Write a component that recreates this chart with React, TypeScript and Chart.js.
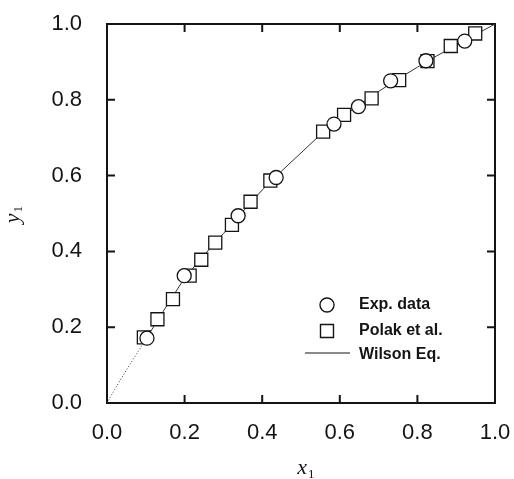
import React, { useEffect, useRef } from 'react';
import { Chart, registerables } from 'chart.js';

Chart.register(...registerables);

// ---- data ----
const expX = [0.103, 0.199, 0.338, 0.436, 0.585, 0.648, 0.731, 0.822, 0.922];
const expY = [0.171, 0.336, 0.494, 0.595, 0.736, 0.782, 0.850, 0.903, 0.955];

const polakX = [0.095, 0.130, 0.170, 0.213, 0.243, 0.279, 0.322, 0.370, 0.421, 0.557, 0.611, 0.682, 0.753, 0.826, 0.886, 0.949];
const polakY = [0.173, 0.221, 0.274, 0.336, 0.378, 0.423, 0.470, 0.531, 0.587, 0.716, 0.760, 0.804, 0.852, 0.902, 0.942, 0.975];

const wilsonX = [0, 0.02, 0.05, 0.1, 0.15, 0.2, 0.25, 0.3, 0.35, 0.4, 0.45, 0.5, 0.55, 0.6, 0.65, 0.7, 0.75, 0.8, 0.85, 0.9, 0.95, 1.0];
const wilsonY = [0, 0.036, 0.087, 0.168, 0.25, 0.33, 0.39, 0.447, 0.505, 0.562, 0.612, 0.66, 0.708, 0.749, 0.787, 0.822, 0.855, 0.886, 0.916, 0.944, 0.972, 1.0];

const tickValues = [0, 0.2, 0.4, 0.6, 0.8, 1.0];
const tickLabels = ['0.0', '0.2', '0.4', '0.6', '0.8', '1.0'];

const legendLabels = ['Exp. data', 'Polak et al.', 'Wilson Eq.'];
const xTitle = ['x', '1'];
const yTitle = ['y', '1'];

const INK = '#141414';
const TICK_FONT = { family: '"Liberation Sans", Arial, Helvetica, sans-serif', size: 22 };

export default function App() {
  const ref = useRef<HTMLCanvasElement>(null);

  useEffect(() => {
    const canvas = ref.current;
    if (!canvas) return;

    const framePlugin = {
      id: 'frame',
      beforeDatasetsDraw(chart: any) {
        const { ctx, chartArea } = chart;
        const { left, right, top, bottom } = chartArea;
        const xs = chart.scales.x;
        const ys = chart.scales.y;
        ctx.save();
        ctx.strokeStyle = INK;
        ctx.lineWidth = 2;
        ctx.strokeRect(left, top, right - left, bottom - top);
        const tl = 8;
        ctx.beginPath();
        tickValues.forEach((v) => {
          if (v <= 0 || v >= 1) return;
          const px = xs.getPixelForValue(v);
          ctx.moveTo(px, bottom);
          ctx.lineTo(px, bottom - tl);
          ctx.moveTo(px, top);
          ctx.lineTo(px, top + tl);
          const py = ys.getPixelForValue(v);
          ctx.moveTo(left, py);
          ctx.lineTo(left + tl, py);
          ctx.moveTo(right, py);
          ctx.lineTo(right - tl, py);
        });
        ctx.stroke();
        ctx.restore();
      },
    };

    const decorPlugin = {
      id: 'decor',
      afterDraw(chart: any) {
        const { ctx, chartArea } = chart;
        const { left, right, top, bottom } = chartArea;
        ctx.save();
        // axis titles
        ctx.fillStyle = INK;
        const cx = (left + right) / 2;
        ctx.font = 'italic 22px "Liberation Serif", "Times New Roman", serif';
        ctx.textBaseline = 'alphabetic';
        ctx.textAlign = 'right';
        ctx.fillText(xTitle[0], cx + 6, 474);
        ctx.font = '13px "Liberation Serif", "Times New Roman", serif';
        ctx.textAlign = 'left';
        ctx.fillText(xTitle[1], cx + 7, 478);

        const cy = (top + bottom) / 2;
        ctx.save();
        ctx.translate(19, cy + 6);
        ctx.rotate(-Math.PI / 2);
        ctx.font = 'italic 22px "Liberation Serif", "Times New Roman", serif';
        ctx.textAlign = 'right';
        ctx.fillText(yTitle[0], 6, 0);
        ctx.font = '13px "Liberation Serif", "Times New Roman", serif';
        ctx.textAlign = 'left';
        ctx.fillText(yTitle[1], 7, 3);
        ctx.restore();

        // legend
        const symX = 327;
        const rows = [305, 331, 355];
        ctx.strokeStyle = INK;
        ctx.lineWidth = 1.4;
        ctx.fillStyle = '#fff';
        ctx.beginPath();
        ctx.arc(symX, rows[0], 7, 0, Math.PI * 2);
        ctx.fill();
        ctx.stroke();
        ctx.beginPath();
        ctx.rect(symX - 6.5, rows[1] - 6.5, 13, 13);
        ctx.fill();
        ctx.stroke();
        ctx.lineWidth = 1;
        ctx.beginPath();
        ctx.moveTo(305, rows[2] - 2);
        ctx.lineTo(350, rows[2] - 2);
        ctx.stroke();

        ctx.fillStyle = INK;
        ctx.font = 'bold 16px "Liberation Sans", Arial, Helvetica, sans-serif';
        ctx.textAlign = 'left';
        ctx.textBaseline = 'middle';
        legendLabels.forEach((t, i) => ctx.fillText(t, 359, rows[i]));
        ctx.restore();
      },
    };

    const zeroPad = (s: any) => {
      s.paddingTop = 0;
      s.paddingBottom = 0;
      s.paddingLeft = 0;
      s.paddingRight = 0;
    };

    const chart = new Chart(canvas, {
      type: 'scatter',
      data: {
        datasets: [
          {
            label: legendLabels[0],
            data: expX.map((x, i) => ({ x, y: expY[i] })),
            pointStyle: 'circle',
            pointRadius: 7,
            pointBackgroundColor: '#ffffff',
            pointBorderColor: INK,
            pointBorderWidth: 1.3,
            showLine: false,
            order: 0,
          },
          {
            label: legendLabels[1],
            data: polakX.map((x, i) => ({ x, y: polakY[i] })),
            pointStyle: 'rect',
            pointRadius: 9.2,
            pointBackgroundColor: '#ffffff',
            pointBorderColor: INK,
            pointBorderWidth: 1.3,
            showLine: false,
            order: 1,
          },
          {
            label: legendLabels[2],
            data: wilsonX.map((x, i) => ({ x, y: wilsonY[i] })),
            showLine: true,
            pointRadius: 0,
            borderColor: '#333',
            borderWidth: 1,
            tension: 0,
            segment: {
              borderDash: (c: any) => (c.p1.parsed.x <= 0.1 ? [1, 2] : undefined),
            },
            order: 2,
          },
        ],
      },
      options: {
        animation: false,
        responsive: false,
        layout: { padding: { left: 0, top: 24, right: 19, bottom: 0 } },
        plugins: { legend: { display: false }, tooltip: { enabled: false } },
        scales: {
          x: {
            type: 'linear',
            min: 0,
            max: 1,
            grid: { display: false, drawTicks: false },
            border: { display: false },
            afterBuildTicks: (s: any) => {
              s.ticks = tickValues.map((v) => ({ value: v }));
            },
            ticks: {
              padding: 17,
              color: INK,
              font: TICK_FONT,
              maxRotation: 0,
              autoSkip: false,
              callback: (_v: any, i: number) => tickLabels[i],
            },
            afterFit: (s: any) => {
              s.height = 76;
              zeroPad(s);
            },
          },
          y: {
            type: 'linear',
            min: 0,
            max: 1,
            grid: { display: false, drawTicks: false },
            border: { display: false },
            afterBuildTicks: (s: any) => {
              s.ticks = tickValues.map((v) => ({ value: v }));
            },
            ticks: {
              padding: 25,
              color: INK,
              font: TICK_FONT,
              autoSkip: false,
              callback: (_v: any, i: number) => tickLabels[i],
            },
            afterFit: (s: any) => {
              s.width = 107;
              zeroPad(s);
            },
          },
        },
      },
      plugins: [framePlugin, decorPlugin],
    });

    return () => chart.destroy();
  }, []);

  return (
    <div style={{ position: 'absolute', left: 0, top: 0, width: 514, height: 479, background: '#fff' }}>
      <canvas ref={ref} width={514} height={479} style={{ display: 'block', width: 514, height: 479 }} />
    </div>
  );
}
